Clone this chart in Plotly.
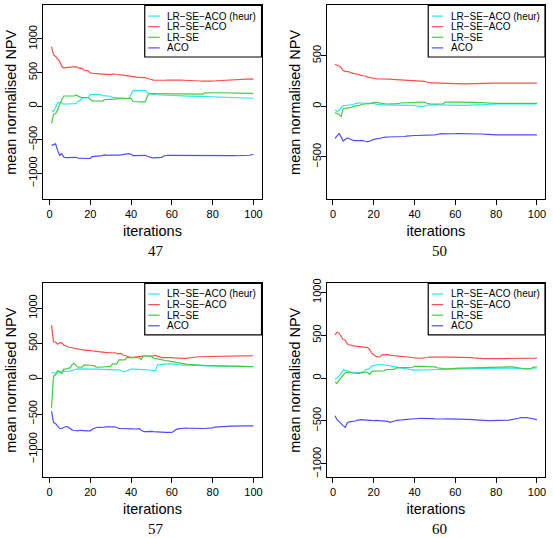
import plotly.graph_objects as go

# ---------------- data ----------------
iterations = list(range(1, 101))
series_names = ["LR−SE−ACO (heur)", "LR−SE−ACO", "LR−SE", "ACO"]
series_colors = ["#2BE8F2", "#FF4D4D", "#45CC45", "#4D4DFF"]
instance_labels = ["47", "50", "57", "60"]
x_tick_vals = [0, 20, 40, 60, 80, 100]
y_tick_vals = [-1000, -500, 0, 500, 1000]

# instance 47
heur_47 = [-59, -78, -20, 54, 56, 40, 32, 33, 34, 35,
           36, 37, 38, 78, 82, 120, 126, 128, 130, 172,
           178, 177, 176, 174, 172, 158, 155, 152, 150, 148,
           130, 128, 126, 125, 122, 115, 113, 112, 112, 180,
           230, 235, 236, 236, 235, 234, 232, 200, 188, 186,
           175, 170, 168, 167, 166, 165, 164, 160, 158, 157,
           156, 155, 155, 154, 153, 152, 151, 150, 150, 149,
           148, 147, 146, 146, 145, 144, 143, 142, 141, 140,
           139, 138, 137, 136, 135, 134, 133, 132, 131, 130,
           129, 128, 127, 126, 125, 124, 123, 122, 120, 118]
lrseaco_47 = [887, 765, 740, 700, 667, 593, 568, 575, 580, 583,
              588, 593, 590, 570, 566, 562, 535, 528, 525, 495,
              485, 486, 484, 483, 478, 472, 470, 468, 472, 470,
              478, 480, 475, 470, 465, 458, 455, 452, 450, 448,
              440, 436, 432, 430, 430, 428, 425, 412, 400, 397,
              388, 386, 386, 385, 384, 385, 386, 390, 391, 390,
              389, 388, 388, 387, 387, 386, 386, 385, 384, 383,
              382, 380, 378, 375, 374, 372, 372, 373, 374, 375,
              377, 378, 380, 381, 382, 383, 384, 386, 388, 390,
              392, 394, 396, 398, 400, 404, 406, 407, 405, 404]
lrse_47 = [-255, -118, -108, -59, 30, 103, 152, 152, 150, 151,
           150, 152, 167, 147, 135, 130, 128, 127, 126, 100,
           80, 78, 77, 76, 76, 77, 98, 100, 102, 103,
           103, 104, 105, 106, 107, 115, 117, 118, 118, 118,
           70, 66, 64, 63, 63, 63, 64, 150, 186, 188,
           188, 188, 187, 186, 186, 185, 185, 184, 183, 183,
           182, 182, 181, 181, 180, 180, 180, 179, 179, 179,
           178, 178, 178, 179, 180, 198, 200, 200, 200, 200,
           200, 200, 200, 200, 200, 199, 199, 198, 198, 198,
           197, 197, 196, 195, 195, 194, 193, 192, 190, 186]
aco_47 = [-583, -568, -560, -657, -730, -706, -755, -765, -765, -768,
          -765, -768, -760, -772, -775, -775, -776, -778, -778, -775,
          -750, -745, -745, -745, -742, -735, -725, -730, -730, -728,
          -730, -728, -728, -727, -725, -720, -712, -706, -706, -715,
          -735, -735, -732, -730, -730, -732, -730, -745, -760, -765,
          -768, -766, -764, -762, -760, -740, -730, -730, -730, -730,
          -730, -728, -728, -727, -727, -726, -726, -725, -725, -725,
          -726, -726, -727, -728, -728, -729, -730, -730, -730, -731,
          -731, -732, -732, -733, -733, -734, -734, -735, -735, -736,
          -736, -737, -737, -738, -738, -738, -735, -730, -722, -715]

# instance 50
heur_50 = [-36, -49, -40, -16, 7, 8, 10, 12, 14, 18,
           28, 33, 34, 33, 32, 33, 35, 36, 34, 28,
           22, 18, 16, 16, 15, 15, 16, 16, 17, 17,
           14, 12, 10, 10, 10, 11, 12, 11, 10, 8,
           3, 0, -2, -2, 0, 8, 14, 16, 16, 16,
           16, 15, 14, 12, 11, 10, 10, 10, 10, 10,
           10, 10, 10, 10, 10, 10, 10, 10, 10, 10,
           11, 12, 14, 16, 18, 20, 22, 23, 23, 23,
           23, 23, 23, 23, 23, 23, 23, 23, 23, 23,
           23, 23, 23, 23, 23, 23, 23, 23, 23, 23]
lrseaco_50 = [415, 409, 399, 383, 353, 345, 343, 340, 330, 322,
              320, 318, 310, 305, 302, 300, 288, 284, 280, 272,
              271, 270, 270, 271, 272, 270, 268, 268, 267, 266,
              265, 265, 262, 258, 256, 255, 255, 254, 253, 252,
              250, 250, 249, 248, 246, 240, 234, 232, 231, 230,
              230, 229, 229, 228, 226, 222, 222, 221, 221, 221,
              221, 221, 221, 221, 221, 222, 222, 223, 224, 225,
              226, 227, 228, 228, 229, 229, 229, 229, 229, 229,
              229, 229, 229, 229, 229, 229, 229, 229, 229, 229,
              229, 229, 229, 229, 229, 229, 229, 229, 229, 229]
lrse_50 = [-65, -69, -82, -101, -23, -16, -16, -16, -12, 0,
           7, 7, 10, 20, 23, 23, 24, 26, 35, 39,
           40, 36, 32, 24, 23, 23, 23, 23, 24, 24,
           25, 26, 33, 33, 33, 34, 34, 35, 36, 38,
           40, 43, 44, 43, 40, 30, 24, 23, 23, 23,
           23, 23, 23, 24, 42, 43, 43, 43, 43, 43,
           43, 42, 42, 42, 42, 41, 41, 41, 40, 40,
           40, 39, 38, 36, 34, 32, 30, 30, 30, 30,
           30, 30, 30, 30, 30, 30, 30, 30, 30, 30,
           30, 30, 30, 30, 29, 29, 29, 29, 29, 29]
aco_50 = [-317, -294, -268, -301, -343, -327, -311, -320, -330, -337,
          -338, -340, -338, -336, -337, -345, -350, -345, -335, -327,
          -325, -320, -315, -310, -305, -304, -303, -303, -302, -302,
          -301, -300, -300, -299, -298, -295, -292, -290, -289, -288,
          -288, -288, -288, -287, -287, -286, -285, -284, -283, -282,
          -278, -272, -270, -271, -272, -272, -271, -270, -270, -270,
          -269, -269, -268, -268, -268, -268, -268, -267, -267, -268,
          -269, -271, -273, -275, -277, -279, -280, -281, -281, -281,
          -281, -281, -281, -281, -281, -281, -281, -281, -281, -281,
          -281, -281, -281, -281, -281, -281, -281, -281, -281, -281]

# instance 57
heur_57 = [89, 80, 79, 80, 103, 105, 103, 102, 105, 108,
           120, 130, 135, 140, 140, 142, 145, 140, 138, 140,
           138, 136, 135, 135, 134, 134, 133, 133, 132, 130,
           126, 124, 126, 127, 120, 103, 100, 115, 130, 135,
           136, 136, 135, 135, 134, 130, 128, 126, 124, 120,
           118, 115, 196, 200, 198, 205, 210, 212, 215, 212,
           205, 200, 198, 196, 195, 193, 190, 188, 186, 185,
           183, 182, 181, 180, 180, 179, 178, 178, 177, 177,
           176, 176, 176, 175, 175, 175, 174, 174, 174, 174,
           173, 173, 173, 173, 173, 173, 172, 172, 172, 172]
lrseaco_57 = [757, 523, 520, 490, 509, 512, 476, 470, 450, 444,
              440, 430, 432, 425, 410, 408, 406, 405, 404, 403,
              395, 390, 385, 383, 380, 375, 372, 370, 369, 369,
              375, 368, 360, 352, 360, 336, 330, 320, 305, 300,
              302, 304, 305, 306, 318, 322, 322, 320, 315, 318,
              325, 330, 325, 310, 300, 302, 304, 304, 305, 300,
              295, 292, 290, 290, 289, 288, 288, 290, 292, 295,
              300, 308, 312, 313, 314, 314, 315, 315, 316, 318,
              320, 320, 321, 321, 322, 322, 322, 322, 322, 323,
              323, 323, 323, 323, 324, 324, 324, 325, 325, 326]
lrse_57 = [-411, 33, 56, 117, 100, 70, 135, 135, 150, 150,
           196, 219, 190, 163, 163, 165, 196, 196, 193, 190,
           188, 185, 163, 163, 165, 173, 173, 174, 174, 175,
           210, 210, 212, 266, 266, 268, 266, 304, 304, 304,
           304, 304, 303, 300, 272, 322, 322, 320, 318, 316,
           290, 288, 285, 275, 270, 257, 255, 252, 250, 248,
           240, 232, 225, 218, 212, 210, 206, 203, 200, 198,
           195, 192, 190, 188, 187, 187, 186, 186, 185, 185,
           184, 183, 182, 181, 180, 179, 178, 177, 176, 175,
           175, 174, 174, 173, 173, 173, 173, 173, 173, 173]
aco_57 = [-458, -621, -635, -668, -705, -705, -690, -677, -680, -700,
          -724, -730, -738, -738, -730, -728, -735, -738, -740, -738,
          -715, -700, -691, -688, -690, -688, -685, -683, -680, -678,
          -677, -680, -690, -705, -705, -705, -700, -702, -705, -706,
          -710, -712, -708, -706, -730, -747, -750, -748, -740, -745,
          -748, -750, -752, -761, -765, -762, -760, -760, -761, -761,
          -745, -720, -710, -705, -700, -700, -698, -700, -702, -703,
          -705, -706, -706, -706, -705, -705, -705, -704, -700, -695,
          -685, -682, -680, -680, -678, -676, -674, -672, -670, -670,
          -668, -668, -668, -668, -668, -668, -668, -668, -668, -668]

# instance 60
heur_60 = [-15, 4, 23, 54, 100, 90, 81, 75, 70, 68,
           65, 62, 62, 62, 60, 100, 105, 110, 140, 146,
           150, 155, 158, 158, 155, 150, 145, 142, 139, 136,
           130, 125, 120, 119, 115, 108, 100, 95, 93, 92,
           92, 92, 92, 93, 95, 98, 100, 100, 100, 100,
           100, 101, 102, 103, 104, 105, 105, 106, 106, 107,
           107, 107, 108, 108, 108, 108, 108, 109, 109, 110,
           110, 111, 112, 113, 115, 116, 117, 118, 120, 120,
           120, 120, 118, 118, 117, 116, 115, 114, 113, 112,
           112, 111, 110, 110, 109, 108, 108, 107, 107, 106]
lrseaco_60 = [504, 535, 523, 485, 450, 444, 400, 389, 380, 375,
              372, 370, 368, 365, 362, 362, 355, 331, 290, 273,
              255, 248, 246, 270, 273, 275, 273, 268, 262, 262,
              260, 258, 258, 256, 255, 250, 248, 246, 240, 235,
              232, 231, 231, 232, 233, 240, 245, 246, 246, 246,
              246, 246, 247, 247, 246, 246, 246, 245, 245, 245,
              246, 246, 246, 245, 244, 242, 240, 238, 235, 232,
              230, 228, 227, 227, 227, 226, 226, 226, 226, 226,
              227, 227, 228, 228, 228, 227, 227, 226, 226, 226,
              226, 226, 226, 226, 227, 228, 229, 230, 232, 235]
lrse_60 = [-46, -62, -23, 4, 31, 62, 65, 62, 56, 54,
           54, 54, 55, 69, 70, 70, 68, 45, 78, 81,
           82, 82, 83, 84, 85, 98, 100, 100, 101, 102,
           119, 120, 120, 121, 125, 131, 130, 128, 126, 138,
           139, 139, 138, 137, 136, 135, 134, 133, 132, 130,
           120, 115, 110, 108, 108, 108, 108, 109, 110, 112,
           115, 116, 117, 118, 119, 119, 119, 120, 120, 121,
           121, 121, 122, 122, 123, 123, 124, 124, 125, 125,
           126, 127, 128, 129, 130, 131, 131, 130, 128, 126,
           122, 118, 112, 108, 108, 108, 110, 125, 131, 131]
aco_60 = [-439, -485, -508, -535, -554, -573, -523, -510, -508, -505,
          -500, -490, -485, -485, -487, -490, -495, -497, -500, -497,
          -493, -495, -497, -497, -498, -500, -505, -516, -512, -500,
          -495, -490, -492, -488, -485, -482, -480, -478, -477, -475,
          -472, -471, -470, -469, -468, -468, -470, -470, -472, -475,
          -477, -478, -478, -477, -476, -475, -475, -475, -476, -477,
          -478, -478, -478, -479, -480, -481, -482, -483, -485, -487,
          -490, -492, -494, -495, -496, -497, -497, -497, -498, -498,
          -498, -497, -496, -495, -493, -490, -488, -485, -480, -475,
          -468, -460, -458, -458, -460, -465, -470, -478, -483, -485]

panel_series = [
    [heur_47, lrseaco_47, lrse_47, aco_47],
    [heur_50, lrseaco_50, lrse_50, aco_50],
    [heur_57, lrseaco_57, lrse_57, aco_57],
    [heur_60, lrseaco_60, lrse_60, aco_60],
]

# ---------------- layout geometry (pixels) ----------------
W, H = 553, 538
# (left, right, top, bottom) of each plot box in pixels
boxes = [(43.5, 262, 0.5, 196), (327.5, 546, 0.5, 196),
         (43.5, 262, 281, 476.5), (327.5, 546, 281, 476.5)]
y_ranges = [[-1383, 1498], [-917, 996], [-1393, 1351], [-1154, 1104]]
x_range = [-2.96, 103.96]

SANS = "Liberation Sans, Arial, sans-serif"
SERIF = "Liberation Serif, Times New Roman, serif"


def px(x):
    return x / W


def py(y):
    return 1 - y / H


fig = go.Figure()
layout = dict(
    width=W, height=H,
    margin=dict(l=0, r=0, t=0, b=0),
    paper_bgcolor="white", plot_bgcolor="white",
    showlegend=False,
    font=dict(family=SANS, color="black"),
)
shapes = []
annotations = []

for i, (l, r, t, b) in enumerate(boxes):
    xa = "x" if i == 0 else f"x{i+1}"
    ya = "y" if i == 0 else f"y{i+1}"
    for name, color, vals in zip(series_names, series_colors, panel_series[i]):
        fig.add_trace(go.Scatter(
            x=iterations, y=vals, mode="lines", name=name,
            line=dict(color=color, width=1.2),
            xaxis=xa, yaxis=ya, showlegend=False,
        ))
    axis_common = dict(
        showline=True, linecolor="black", linewidth=1, mirror=True,
        ticks="outside", ticklen=5, tickwidth=1, tickcolor="black",
        showgrid=False, zeroline=False,
        tickfont=dict(family=SANS, size=11, color="black"),
    )
    layout["xaxis" if i == 0 else f"xaxis{i+1}"] = dict(
        axis_common, domain=[px(l), px(r)], range=x_range,
        anchor=ya, tickvals=x_tick_vals,
        title=dict(text="iterations", standoff=6,
                   font=dict(family=SANS, size=14.5, color="black")),
    )
    layout["yaxis" if i == 0 else f"yaxis{i+1}"] = dict(
        axis_common, domain=[py(b), py(t)], range=y_ranges[i],
        anchor=xa, tickvals=y_tick_vals, tickangle=-90,
        ticklabelstandoff=-4,
        title=dict(text="mean normalised NPV", standoff=6,
                   font=dict(family=SANS, size=14.5, color="black")),
    )
    # instance label under the panel
    annotations.append(dict(
        text=instance_labels[i], xref="paper", yref="paper",
        x=px((l + r) / 2 + 4), y=py(b + 52), xanchor="center", yanchor="middle",
        showarrow=False, font=dict(family=SERIF, size=15, color="black"),
    ))
    # legend box in the top-right corner
    lx0, lx1, ly0, ly1 = r - 117, r, t, t + 52
    shapes.append(dict(type="rect", xref="paper", yref="paper",
                       x0=px(lx0), x1=px(lx1), y0=py(ly1), y1=py(ly0),
                       line=dict(color="black", width=1.2),
                       fillcolor="white", layer="above"))
    for k, (name, color) in enumerate(zip(series_names, series_colors)):
        yy = ly0 + 10.7 * (k + 1)
        shapes.append(dict(type="line", xref="paper", yref="paper",
                           x0=px(lx0 + 3.5), x1=px(lx0 + 15), y0=py(yy), y1=py(yy),
                           line=dict(color=color, width=1.2), layer="above"))
        annotations.append(dict(
            text=name, xref="paper", yref="paper",
            x=px(lx0 + 20.5), y=py(yy), xanchor="left", yanchor="middle",
            showarrow=False, font=dict(family=SANS, size=10, color="black"),
        ))

layout["shapes"] = shapes
layout["annotations"] = annotations
fig.update_layout(**layout)
fig.write_html(
    "out.html",
    config={"displayModeBar": False},
    post_script="document.body.style.margin='0';document.body.style.overflow='hidden';",
)
